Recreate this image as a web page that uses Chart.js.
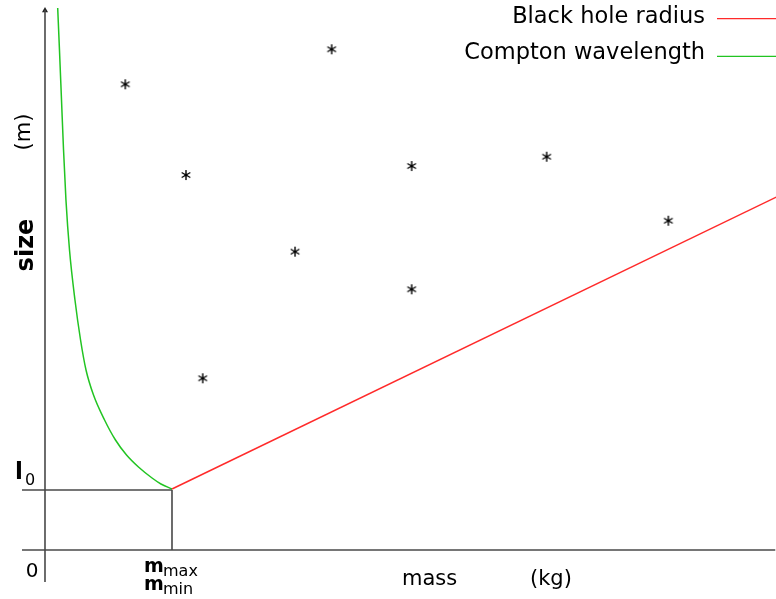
<!DOCTYPE html>
<html>
<head>
<meta charset="utf-8">
<script src="https://cdn.jsdelivr.net/npm/chart.js@4.4.1/dist/chart.umd.min.js"></script>
<style>
  html, body { margin: 0; padding: 0; background: #ffffff; }
  #wrap { width: 776px; height: 599px; position: relative; }
</style>
</head>
<body>
<div id="wrap"><canvas id="c"></canvas></div>
<script>
// Units: mass in multiples of m_min (x), size in multiples of l0 (y)
const seriesLabels = ['Black hole radius', 'Compton wavelength'];
const comptonX = [0.100, 0.114, 0.130, 0.146, 0.165, 0.193, 0.236, 0.280, 0.323, 0.382, 0.469, 0.555, 0.642, 0.736, 0.843, 0.913, 1.000];
const comptonY = [9.033, 8.333, 7.500, 6.667, 5.833, 5.000, 4.167, 3.500, 3.000, 2.583, 2.167, 1.833, 1.583, 1.383, 1.200, 1.100, 1.017];
const blackHoleX = [1.000, 5.760];
const blackHoleY = [1.017, 5.883];
const starX = [0.632, 2.257, 1.110, 2.887, 3.950, 4.908, 1.969, 2.887, 1.242];
const starY = [7.762, 8.345, 6.250, 6.400, 6.555, 5.488, 4.972, 4.345, 2.862];
// reference values on the axes
const mMin = 1;
const l0 = 1;
const xRange = [-0.3543, 5.7559];
const yRange = [-0.8167, 9.1667];
const axisTextX = ['mass', '(kg)'];
const axisTextY = ['size', '(m)'];

function pts(xs, ys) { return xs.map((x, i) => ({ x: x, y: ys[i] })); }

// asterisk point image
const star = document.createElement('canvas');
star.width = 14; star.height = 14;
(function () {
  const g = star.getContext('2d');
  g.strokeStyle = '#000'; g.lineWidth = 1.4; g.lineCap = 'butt';
  const c = 7, r = 5;
  for (let k = 0; k < 3; k++) {
    const a = Math.PI / 2 + k * Math.PI / 3;
    g.beginPath();
    g.moveTo(c + r * Math.cos(a), c - r * Math.sin(a));
    g.lineTo(c - r * Math.cos(a), c + r * Math.sin(a));
    g.stroke();
  }
  g.fillStyle = '#000';
  g.fillRect(c - 1.2, c - 1.2, 2.4, 2.4);
})();

const axisColor = '#484848';

const labelsPlugin = {
  id: 'labelsPlugin',
  afterDraw(chart) {
    const ctx = chart.ctx;
    const xs = chart.scales.x, ys = chart.scales.y;
    const x0 = xs.getPixelForValue(0), y0 = ys.getPixelForValue(0);
    const xm = xs.getPixelForValue(mMin), yl = ys.getPixelForValue(l0);
    ctx.save();
    ctx.fillStyle = '#000';
    ctx.textBaseline = 'alphabetic';
    ctx.textAlign = 'left';
    // l0
    ctx.font = 'bold 23px "DejaVu Sans"';
    ctx.fillText('l', x0 - 30, yl - 11);
    ctx.font = '16px "DejaVu Sans"';
    ctx.fillText('0', x0 - 20, yl - 5);
    // origin 0
    ctx.font = '20px "DejaVu Sans"';
    ctx.textAlign = 'center';
    ctx.fillText('0', x0 - 13, y0 + 27);
    // m_max / m_min
    ctx.textAlign = 'left';
    ctx.font = 'bold 19px "DejaVu Sans"';
    ctx.fillText('m', xm - 28, y0 + 22);
    ctx.fillText('m', xm - 28, y0 + 40);
    ctx.font = '16px "DejaVu Sans"';
    ctx.fillText('max', xm - 9, y0 + 26);
    ctx.fillText('min', xm - 9, y0 + 44);
    // x title
    ctx.font = '21px "DejaVu Sans"';
    ctx.fillText(axisTextX[0], 402, 585);
    ctx.fillText(axisTextX[1], 530, 585);
    // y title (rotated)
    ctx.save();
    ctx.translate(33, 245);
    ctx.rotate(-Math.PI / 2);
    ctx.textAlign = 'center';
    ctx.font = 'bold 24px "DejaVu Sans"';
    ctx.fillText(axisTextY[0], 0, 0);
    ctx.restore();
    ctx.save();
    ctx.translate(30, 132);
    ctx.rotate(-Math.PI / 2);
    ctx.textAlign = 'center';
    ctx.font = '21px "DejaVu Sans"';
    ctx.fillText(axisTextY[1], 0, 0);
    ctx.restore();
    // legend (text then line, right side)
    const ds = chart.data.datasets;
    const items = [ds[0], ds[1]];
    const baselines = [22.7, 59.3];
    const lineYs = [18.7, 56.3];
    ctx.textAlign = 'right';
    ctx.font = '22.5px "DejaVu Sans"';
    items.forEach((d, i) => {
      ctx.fillStyle = '#000';
      ctx.fillText(d.label, 705, baselines[i]);
      ctx.strokeStyle = d.borderColor;
      ctx.lineWidth = 1.2;
      ctx.beginPath();
      ctx.moveTo(717, lineYs[i]);
      ctx.lineTo(776, lineYs[i]);
      ctx.stroke();
    });
    ctx.restore();
  }
};

const lineDs = (label, data, color, width) => ({
  type: 'line', label: label, data: data, borderColor: color, backgroundColor: color,
  borderWidth: width, pointRadius: 0, fill: false, showLine: true, tension: 0
});

new Chart(document.getElementById('c'), {
  type: 'scatter',
  data: {
    datasets: [
      lineDs(seriesLabels[0], pts(blackHoleX, blackHoleY), '#ff2a2a', 1.5),
      Object.assign(lineDs(seriesLabels[1], pts(comptonX, comptonY), '#22c422', 1.5), { cubicInterpolationMode: 'monotone' }),
      // axes and reference lines
      lineDs('y axis', [{ x: 0, y: -0.533 }, { x: 0, y: 9.0 }], axisColor, 1.6),
      lineDs('x axis', [{ x: -0.181, y: 0 }, { x: 5.75, y: 0 }], axisColor, 1.6),
      lineDs('l0 line', [{ x: -0.181, y: l0 }, { x: mMin, y: l0 }], axisColor, 1.6),
      lineDs('m line', [{ x: mMin, y: 0 }, { x: mMin, y: l0 }], axisColor, 1.6),
      {
        type: 'scatter', label: 'arrow', data: [{ x: 0, y: 8.99 }],
        pointStyle: 'triangle', pointRadius: 3.5, backgroundColor: '#222', borderColor: '#222', borderWidth: 0
      },
      {
        type: 'scatter', label: 'points', data: pts(starX, starY),
        pointStyle: star, pointRadius: 6
      }
    ]
  },
  options: {
    responsive: true,
    maintainAspectRatio: false,
    animation: false,
    layout: { padding: 0, autoPadding: false },
    plugins: { legend: { display: false }, tooltip: { enabled: false }, title: { display: false } },
    scales: {
      x: { type: 'linear', display: false, min: xRange[0], max: xRange[1] },
      y: { type: 'linear', display: false, min: yRange[0], max: yRange[1] }
    }
  },
  plugins: [labelsPlugin]
});
</script>
</body>
</html>
